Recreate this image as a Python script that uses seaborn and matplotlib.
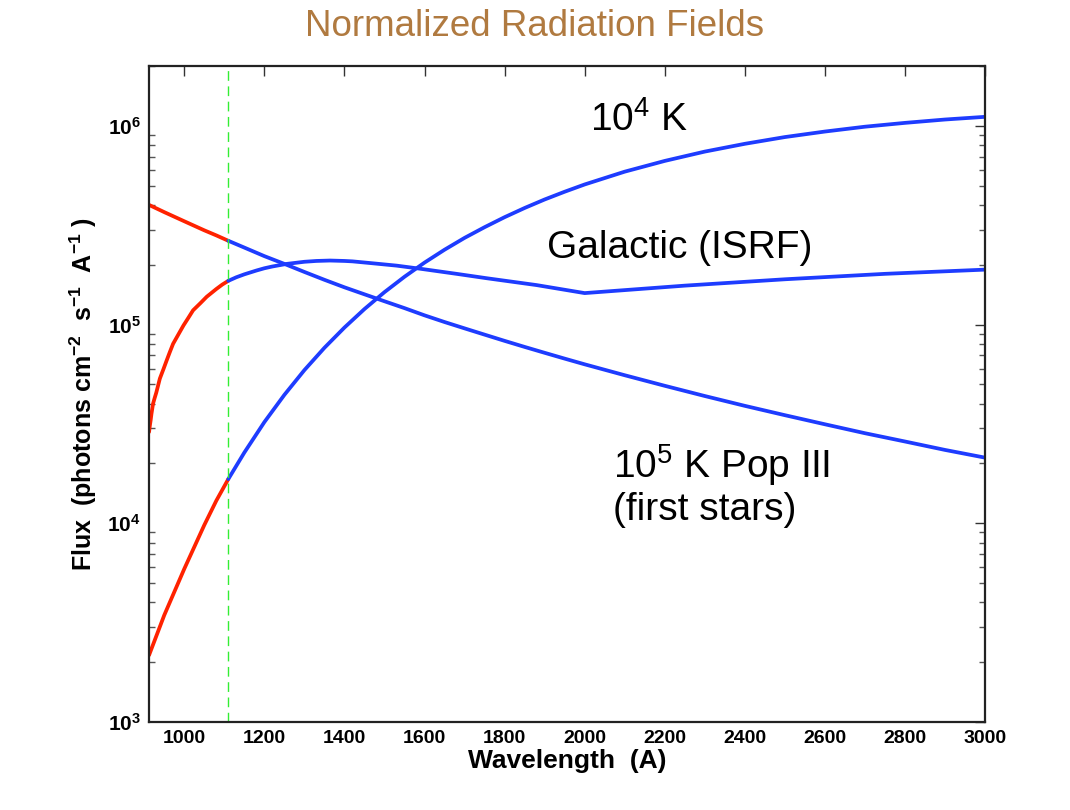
import matplotlib
matplotlib.use("Agg")
import matplotlib.pyplot as plt
import seaborn as sns
import pandas as pd

# ---------------- data ----------------
cut_wavelength = 1110  # Lyman-Werner limit (dashed line)

bb_wavelength = [912, 950, 1000, 1050, 1080, 1110, 1150, 1200, 1250, 1300, 1350, 1400,
                 1450, 1500, 1550, 1600, 1650, 1700, 1750, 1800, 1850, 1900, 1950, 2000,
                 2100, 2200, 2300, 2400, 2500, 2600, 2700, 2800, 2900, 3000]
flux_1e4K = [2.17e3, 3.45e3, 5.9e3, 9.8e3, 1.3e4, 1.67e4, 2.27e4, 3.23e4, 4.43e4, 5.9e4,
             7.64e4, 9.66e4, 1.197e5, 1.456e5, 1.74e5, 2.05e5, 2.38e5, 2.73e5, 3.09e5,
             3.47e5, 3.86e5, 4.26e5, 4.66e5, 5.07e5, 5.88e5, 6.66e5, 7.42e5, 8.12e5,
             8.78e5, 9.36e5, 9.90e5, 1.035e6, 1.076e6, 1.11e6]
flux_popIII = [4.0e5, 3.68e5, 3.31e5, 2.98e5, 2.81e5, 2.64e5, 2.44e5, 2.21e5, 2.02e5,
               1.84e5, 1.68e5, 1.54e5, 1.42e5, 1.31e5, 1.21e5, 1.113e5, 1.03e5, 9.57e4,
               8.9e4, 8.28e4, 7.72e4, 7.21e4, 6.74e4, 6.31e4, 5.56e4, 4.92e4, 4.37e4,
               3.90e4, 3.50e4, 3.15e4, 2.84e4, 2.58e4, 2.34e4, 2.14e4]

isrf_wavelength = [912, 914, 916, 918, 922, 926, 930, 939, 948, 956, 964, 972, 985, 998,
                   1010, 1022, 1040, 1056, 1080, 1095, 1110, 1130, 1150, 1180, 1200, 1220,
                   1256, 1300, 1330, 1364, 1400, 1420, 1464, 1530, 1589, 1680, 1756, 1880,
                   2000, 2250, 2500, 2750, 3000]
flux_isrf = [2.88e4, 3.1e4, 3.3e4, 3.55e4, 4.0e4, 4.27e4, 4.54e4, 5.35e4, 5.97e4, 6.6e4,
             7.28e4, 8.0e4, 8.9e4, 9.9e4, 1.08e5, 1.18e5, 1.28e5, 1.38e5, 1.51e5, 1.59e5,
             1.66e5, 1.73e5, 1.79e5, 1.87e5, 1.92e5, 1.96e5, 2.02e5, 2.07e5, 2.09e5,
             2.10e5, 2.09e5, 2.08e5, 2.04e5, 1.98e5, 1.91e5, 1.80e5, 1.71e5, 1.58e5,
             1.44e5, 1.57e5, 1.69e5, 1.80e5, 1.89e5]

ytick_values = [1e3, 1e4, 1e5, 1e6]
ytick_labels = [r'$\mathbf{10^{3}}$', r'$\mathbf{10^{4}}$', r'$\mathbf{10^{5}}$', r'$\mathbf{10^{6}}$']
xtick_values = [1000, 1200, 1400, 1600, 1800, 2000, 2200, 2400, 2600, 2800, 3000]

# ---------------- style ----------------
sns.set_style("white")
plt.rcParams['font.family'] = ['Liberation Sans', 'DejaVu Sans']
plt.rcParams['mathtext.fontset'] = 'custom'
plt.rcParams['mathtext.rm'] = 'Liberation Sans'
plt.rcParams['mathtext.it'] = 'Liberation Sans:italic'
plt.rcParams['mathtext.bf'] = 'Liberation Sans:bold'
plt.rcParams['text.color'] = 'black'
plt.rcParams['axes.labelcolor'] = 'black'
plt.rcParams['xtick.color'] = 'black'
plt.rcParams['ytick.color'] = 'black'

RED = '#FF2200'
BLUE = '#1E3CFF'
GREEN = '#33EE33'

fig = plt.figure(figsize=(10.7, 8.1), dpi=100)
ax = fig.add_axes([0.1393, 0.1086, 0.7813, 0.8099])


def split_curve(wl, fl):
    lo = pd.DataFrame({'wl': [w for w in wl if w <= cut_wavelength],
                       'flux': [f for w, f in zip(wl, fl) if w <= cut_wavelength]})
    hi = pd.DataFrame({'wl': [w for w in wl if w >= cut_wavelength],
                       'flux': [f for w, f in zip(wl, fl) if w >= cut_wavelength]})
    return lo, hi


for wl, fl in [(bb_wavelength, flux_1e4K), (bb_wavelength, flux_popIII),
               (isrf_wavelength, flux_isrf)]:
    lo, hi = split_curve(wl, fl)
    sns.lineplot(data=lo, x='wl', y='flux', ax=ax, color=RED, lw=2.7, sort=True)
    sns.lineplot(data=hi, x='wl', y='flux', ax=ax, color=BLUE, lw=2.7, sort=True)

ax.axvline(cut_wavelength, color=GREEN, lw=1.0, linestyle=(0, (7, 4)))

ax.set_yscale('log')
ax.set_xlim(912, 3000)
ax.set_ylim(1e3, 2e6)
ax.set_xticks(xtick_values)
ax.set_xticklabels([str(v) for v in xtick_values], fontsize=14, fontweight='bold')
ax.set_yticks(ytick_values)
ax.set_yticklabels(ytick_labels, fontsize=15)
ax.tick_params(axis='both', which='major', direction='in', length=7, width=1.0,
               top=True, right=True, color='#333333', pad=6)
ax.tick_params(axis='y', which='minor', direction='in', length=4, width=1.0,
               left=True, right=True, color='#555555')
ax.tick_params(axis='x', which='minor', bottom=False, top=False)

for s in ax.spines.values():
    s.set_linewidth(1.6)
    s.set_color('#222222')

ax.set_xlabel('Wavelength  (A)', fontsize=19, fontweight='bold', labelpad=1)
ax.set_ylabel(r'Flux  (photons cm$^{\mathbf{-2}}$  s$^{\mathbf{-1}}$  A$^{\mathbf{-1}}$ )',
              fontsize=18, fontweight='bold', labelpad=6)

fig.text(0.5, 0.967, 'Normalized Radiation Fields', ha='center', va='center',
         fontsize=26.5, color='#B07A40')

ax.text(0.5275, 0.918, r'10$^{4}$ K', transform=ax.transAxes, fontsize=28,
        ha='left', va='center')
ax.text(0.476, 0.7226, 'Galactic (ISRF)', transform=ax.transAxes, fontsize=28,
        ha='left', va='center')
ax.text(0.555, 0.392, r'10$^{5}$ K Pop III', transform=ax.transAxes, fontsize=28,
        ha='left', va='center')
ax.text(0.555, 0.323, '(first stars)', transform=ax.transAxes, fontsize=28,
        ha='left', va='center')

fig.savefig('out.png', dpi=100, facecolor='white')
